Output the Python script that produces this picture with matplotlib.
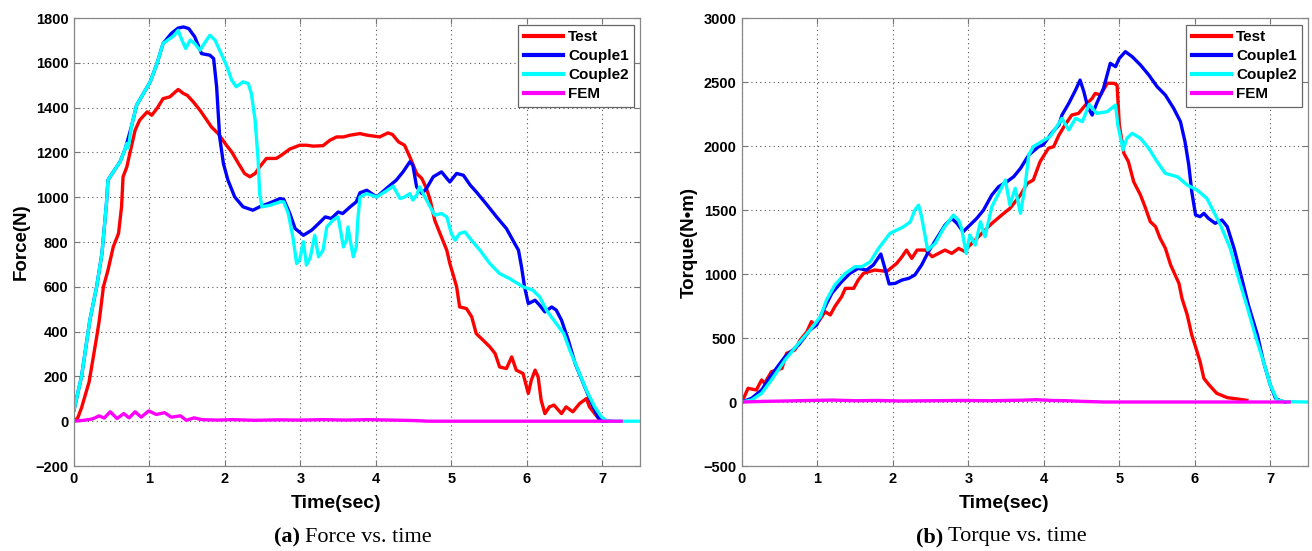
import numpy as np
import matplotlib
matplotlib.use('Agg')
import matplotlib.pyplot as plt

# --- DATA ---
# Force vs time
f_test_t = [0, 0.05, 0.1, 0.2, 0.3, 0.335, 0.39, 0.45, 0.52, 0.59, 0.63, 0.65, 0.70, 0.74, 0.81, 0.87, 0.97, 1.03,
            1.10, 1.18, 1.27, 1.38, 1.45, 1.50, 1.58, 1.67, 1.76, 1.82, 1.91, 2.02, 2.09, 2.18, 2.26, 2.33, 2.40,
            2.46, 2.55, 2.68, 2.75, 2.86, 2.99, 3.08, 3.17, 3.30, 3.39, 3.48, 3.57, 3.66, 3.79, 3.88, 4.05, 4.16,
            4.22, 4.30, 4.38, 4.45, 4.54, 4.61, 4.67, 4.72, 4.78, 4.85, 4.94, 4.98, 5.02, 5.07, 5.11, 5.20, 5.27,
            5.33, 5.42, 5.51, 5.58, 5.64, 5.73, 5.80, 5.86, 5.95, 6.02, 6.06, 6.11, 6.15, 6.19, 6.24, 6.30, 6.36,
            6.46, 6.52, 6.61, 6.70, 6.79, 6.83, 6.90, 6.97]
f_test = [0, 15, 60, 175, 375, 450, 600, 674, 778, 838, 957, 1091, 1135, 1196, 1299, 1344, 1381, 1366,
          1396, 1440, 1448, 1481, 1463, 1455, 1426, 1388, 1344, 1314, 1284, 1232, 1202, 1150, 1106, 1091, 1106,
          1135, 1173, 1173, 1188, 1215, 1232, 1232, 1228, 1230, 1254, 1269, 1269, 1277, 1284, 1277, 1269, 1287,
          1280, 1247, 1232, 1180, 1106, 1083, 1039, 987, 897, 838, 763, 704, 659, 600, 510, 503, 466,
          391, 362, 332, 302, 242, 235, 287, 228, 213, 124, 183, 228, 198, 94, 34, 64, 72,
          34, 64, 42, 79, 101, 64, 34, 4]

f_c1_t = [0, 0.1, 0.21, 0.30, 0.37, 0.43, 0.45, 0.52, 0.61, 0.68, 0.76, 0.83, 0.92, 1.01, 1.10, 1.18, 1.29, 1.38,
          1.45, 1.52, 1.60, 1.69, 1.80, 1.85, 1.89, 1.93, 1.98, 2.04, 2.13, 2.24, 2.37, 2.46, 2.60, 2.73, 2.78,
          2.86, 2.93, 3.04, 3.15, 3.24, 3.33, 3.41, 3.50, 3.56, 3.66, 3.74, 3.79, 3.88, 4.01, 4.14, 4.27, 4.36,
          4.45, 4.49, 4.54, 4.61, 4.67, 4.76, 4.87, 4.98, 5.07, 5.16, 5.25, 5.33, 5.46, 5.60, 5.73, 5.84, 5.89,
          5.93, 5.97, 6.02, 6.11, 6.17, 6.24, 6.33, 6.39, 6.46, 6.55, 6.64, 6.75, 6.86, 6.94, 7.0, 7.1]
f_c1 = [50, 200, 451, 600, 748, 971, 1076, 1113, 1158, 1217, 1314, 1411, 1463, 1515, 1597, 1686, 1731, 1755,
        1760, 1753, 1716, 1641, 1634, 1619, 1493, 1269, 1150, 1076, 1001, 957, 942, 957, 975, 994, 990,
        927, 860, 830, 853, 882, 912, 905, 934, 927, 957, 979, 1020, 1031, 1001, 1039, 1076, 1113,
        1158, 1143, 1046, 1016, 1039, 1091, 1113, 1068, 1106, 1098, 1054, 1024, 971, 912, 860, 793, 763,
        689, 600, 525, 540, 518, 488, 510, 496, 451, 362, 258, 168, 79, 19, 0, 0]

f_c2_t = [0, 0.1, 0.21, 0.30, 0.37, 0.43, 0.45, 0.52, 0.61, 0.68, 0.70, 0.72, 0.76, 0.83, 0.92, 1.01, 1.10, 1.18,
          1.32, 1.38, 1.43, 1.48, 1.54, 1.60, 1.67, 1.74, 1.80, 1.87, 1.93, 2.02, 2.09, 2.15, 2.24, 2.31, 2.35,
          2.40, 2.44, 2.46, 2.49, 2.60, 2.73, 2.78, 2.84, 2.90, 2.95, 2.99, 3.04, 3.08, 3.13, 3.19, 3.24, 3.30,
          3.35, 3.43, 3.50, 3.57, 3.61, 3.63, 3.66, 3.70, 3.74, 3.76, 3.79, 3.88, 4.01, 4.12, 4.23, 4.32, 4.38,
          4.45, 4.49, 4.54, 4.58, 4.65, 4.72, 4.78, 4.87, 4.94, 5.00, 5.05, 5.11, 5.18, 5.25, 5.38, 5.51, 5.64,
          5.77, 5.95, 6.08, 6.17, 6.26, 6.39, 6.49, 6.57, 6.68, 6.79, 6.90, 6.99, 7.05, 7.1, 7.5]
f_c2 = [50, 200, 451, 600, 748, 971, 1076, 1113, 1158, 1217, 1240, 1220, 1314, 1411, 1463, 1515, 1597, 1686,
        1720, 1745, 1701, 1664, 1701, 1686, 1656, 1693, 1723, 1701, 1656, 1589, 1522, 1493, 1515, 1507, 1463,
        1344, 1165, 1016, 957, 964, 979, 979, 927, 823, 704, 720, 801, 697, 730, 830, 734, 763,
        867, 897, 912, 778, 808, 867, 808, 734, 778, 897, 1001, 1016, 1001, 1024, 1049, 994, 1001,
        1016, 987, 1009, 1046, 1001, 957, 920, 927, 912, 838, 808, 838, 845, 815, 763, 704, 659,
        637, 600, 585, 555, 496, 436, 391, 317, 228, 138, 64, 19, 4, 0, 0]

f_fem_t = [0, 0.13, 0.23, 0.28, 0.33, 0.40, 0.48, 0.57, 0.66, 0.73, 0.81, 0.89, 0.99, 1.09, 1.20, 1.29, 1.41,
           1.49, 1.59, 1.69, 1.9, 2.1, 2.4, 2.7, 3.0, 3.3, 3.6, 3.9, 4.2, 4.5, 4.7, 7.25]
f_fem = [0, 4, 9, 15, 24, 14, 42, 12, 34, 15, 42, 18, 46, 30, 38, 18, 24,
         4, 15, 7, 5, 7, 4, 6, 5, 7, 5, 7, 5, 3, 0, 0]

# Torque vs time
t_test_t = [0, 0.08, 0.19, 0.26, 0.30, 0.39, 0.53, 0.59, 0.70, 0.77, 0.86, 0.92, 0.97, 1.03, 1.10, 1.17, 1.23,
            1.32, 1.37, 1.48, 1.54, 1.61, 1.68, 1.76, 1.92, 2.05, 2.12, 2.18, 2.25, 2.32, 2.43, 2.52, 2.69, 2.78,
            2.87, 2.96, 3.00, 3.09, 3.20, 3.31, 3.44, 3.55, 3.69, 3.78, 3.86, 3.95, 4.06, 4.13, 4.20, 4.28, 4.37,
            4.46, 4.55, 4.64, 4.68, 4.75, 4.84, 4.93, 4.97, 5.00, 5.06, 5.12, 5.19, 5.28, 5.34, 5.41, 5.48, 5.54,
            5.61, 5.68, 5.74, 5.79, 5.83, 5.90, 5.96, 6.03, 6.07, 6.12, 6.19, 6.29, 6.43, 6.56, 6.69]
t_test = [0, 107, 94, 172, 146, 237, 263, 380, 406, 484, 549, 628, 602, 641, 706, 680, 745,
          823, 888, 888, 953, 1005, 1018, 1031, 1020, 1083, 1135, 1187, 1122, 1187, 1187, 1135, 1187, 1161,
          1200, 1174, 1213, 1265, 1330, 1395, 1460, 1513, 1617, 1708, 1734, 1878, 1982, 1995, 2086, 2164, 2242,
          2255, 2320, 2372, 2411, 2398, 2490, 2490, 2476, 2164, 1943, 1878, 1721, 1617, 1526, 1409, 1370, 1279,
          1201, 1070, 992, 927, 810, 680, 523, 393, 315, 185, 133, 68, 34, 24, 13]

t_c1_t = [0, 0.13, 0.26, 0.39, 0.57, 0.75, 0.90, 0.99, 1.08, 1.19, 1.32, 1.43, 1.54, 1.65, 1.74, 1.84, 1.90,
          1.95, 2.03, 2.12, 2.21, 2.29, 2.38, 2.47, 2.58, 2.69, 2.78, 2.85, 2.93, 3.02, 3.11, 3.20, 3.31, 3.40,
          3.51, 3.60, 3.69, 3.80, 3.93, 3.99, 4.10, 4.20, 4.24, 4.33, 4.42, 4.48, 4.53, 4.58, 4.64, 4.70, 4.79,
          4.88, 4.95, 5.00, 5.08, 5.17, 5.28, 5.39, 5.50, 5.61, 5.72, 5.81, 5.87, 5.92, 5.96, 6.01, 6.07, 6.12,
          6.18, 6.27, 6.36, 6.43, 6.52, 6.60, 6.71, 6.83, 6.91, 7.00, 7.07, 7.14, 7.2]
t_c1 = [0, 30, 94, 211, 354, 445, 562, 602, 719, 849, 940, 1005, 1044, 1031, 1070, 1156, 1031,
        922, 927, 953, 966, 992, 1070, 1174, 1278, 1382, 1434, 1395, 1330, 1382, 1434, 1499, 1617, 1682,
        1721, 1760, 1825, 1930, 1995, 2008, 2099, 2164, 2242, 2333, 2437, 2515, 2424, 2307, 2242, 2333, 2450,
        2646, 2620, 2685, 2737, 2698, 2633, 2555, 2464, 2398, 2294, 2190, 2034, 1852, 1643, 1461, 1448, 1474,
        1435, 1396, 1422, 1370, 1201, 1018, 758, 523, 315, 133, 29, 8, 0]

t_c2_t = [0, 0.13, 0.26, 0.39, 0.57, 0.75, 0.90, 1.04, 1.12, 1.23, 1.37, 1.50, 1.59, 1.70, 1.81, 1.96, 2.14,
          2.23, 2.29, 2.34, 2.38, 2.46, 2.56, 2.67, 2.80, 2.87, 2.91, 2.97, 3.02, 3.09, 3.16, 3.22, 3.31, 3.40,
          3.49, 3.55, 3.62, 3.69, 3.75, 3.80, 3.86, 3.97, 4.08, 4.17, 4.24, 4.33, 4.42, 4.51, 4.60, 4.70, 4.84,
          4.95, 4.98, 5.05, 5.10, 5.17, 5.28, 5.39, 5.50, 5.61, 5.77, 5.90, 6.03, 6.16, 6.25, 6.34, 6.47, 6.58,
          6.70, 6.80, 6.91, 7.00, 7.09, 7.18, 7.5]
t_c2 = [0, 16, 68, 172, 328, 458, 562, 667, 797, 914, 1005, 1057, 1057, 1096, 1200, 1317, 1369,
        1408, 1499, 1538, 1447, 1187, 1239, 1356, 1460, 1421, 1356, 1161, 1304, 1226, 1408, 1291, 1525, 1629,
        1734, 1539, 1669, 1474, 1682, 1930, 1995, 2034, 2073, 2151, 2216, 2125, 2216, 2190, 2325, 2255, 2268,
        2320, 2164, 1969, 2060, 2099, 2060, 1982, 1878, 1786, 1760, 1695, 1656, 1591, 1487, 1383, 1201, 966,
        732, 523, 315, 133, 16, 3, 0]

t_fem_t = [0, 0.3, 0.6, 0.9, 1.2, 1.5, 1.8, 2.1, 2.5, 2.9, 3.3, 3.7, 3.9, 4.1, 4.3, 4.5, 4.8, 7.25]
t_fem = [0, 5, 8, 12, 15, 10, 12, 8, 10, 12, 10, 14, 18, 12, 10, 5, 0, 0]

labels = ['Test', 'Couple1', 'Couple2', 'FEM']
colors = ['#ff0000', '#0000ff', '#00ffff', '#ff00ff']

# --- PLOT ---
W, H = 1312, 551
fig = plt.figure(figsize=(W / 100, H / 100), dpi=100)
plt.rcParams['font.family'] = ['Liberation Sans', 'DejaVu Sans']

def setup_axes(x0, ylim, yticks, ylabel, xlab_center):
    ax = fig.add_axes([x0 / W, 85 / H, 566 / W, 448 / H])
    ax.set_xlim(0, 7.5)
    ax.set_ylim(*ylim)
    ax.set_xticks(range(0, 8))
    ax.set_yticks(yticks)
    ax.grid(True, linestyle=(0, (1, 3)), color='#555555', linewidth=0.8)
    ax.tick_params(direction='in', length=4, color='#777777', top=True, right=True,
                   labelsize=10.5, pad=4)
    for lab in ax.get_xticklabels() + ax.get_yticklabels():
        lab.set_fontweight('bold')
    for s in ax.spines.values():
        s.set_color('#888888')
        s.set_linewidth(0.9)
    ax.set_xlabel('Time(sec)', fontsize=14, fontweight='bold')
    ax.xaxis.set_label_coords((xlab_center - x0) / 566, (466 - 503) / 448)
    ax.xaxis.label.set_va('center')
    ax.set_ylabel(ylabel, fontsize=13.5, fontweight='bold', labelpad=4)
    return ax

def draw(ax, series):
    for (x, y), lab, c in zip(series, labels, colors):
        ax.plot(x, y, color=c, lw=2.4, label=lab, solid_joinstyle='round')
    leg = ax.legend(loc='upper right', bbox_to_anchor=(1 - 6 / 566, 1 - 7 / 448), fancybox=False,
                    edgecolor='#666666', framealpha=1, handlelength=2.6, handletextpad=0.3,
                    labelspacing=0.33, borderpad=0.35, borderaxespad=0,
                    prop={'weight': 'bold', 'size': 11})
    leg.get_frame().set_linewidth(0.9)
    for ln in leg.get_lines():
        ln.set_linewidth(3)

ax1 = setup_axes(74, (-200, 1800), range(-200, 1801, 200), 'Force(N)', 336)
draw(ax1, [(f_test_t, f_test), (f_c1_t, f_c1), (f_c2_t, f_c2), (f_fem_t, f_fem)])

ax2 = setup_axes(742, (-500, 3000), range(-500, 3001, 500), 'Torque(N\u2022m)', 1004)
draw(ax2, [(t_test_t, t_test), (t_c1_t, t_c1), (t_c2_t, t_c2), (t_fem_t, t_fem)])

# captions under each panel
cap_y = 1 - 537 / H
fig.text(300 / W, cap_y, '(a)', family='Liberation Serif', weight='bold', fontsize=16, ha='right', va='center')
fig.text(305 / W, cap_y, 'Force vs. time', family='Liberation Serif', fontsize=16, ha='left', va='center')
fig.text(943 / W, cap_y, '(b)', family='Liberation Serif', weight='bold', fontsize=16, ha='right', va='center')
fig.text(948 / W, cap_y, 'Torque vs. time', family='Liberation Serif', fontsize=16, ha='left', va='center')

fig.savefig('out.png', dpi=100)
